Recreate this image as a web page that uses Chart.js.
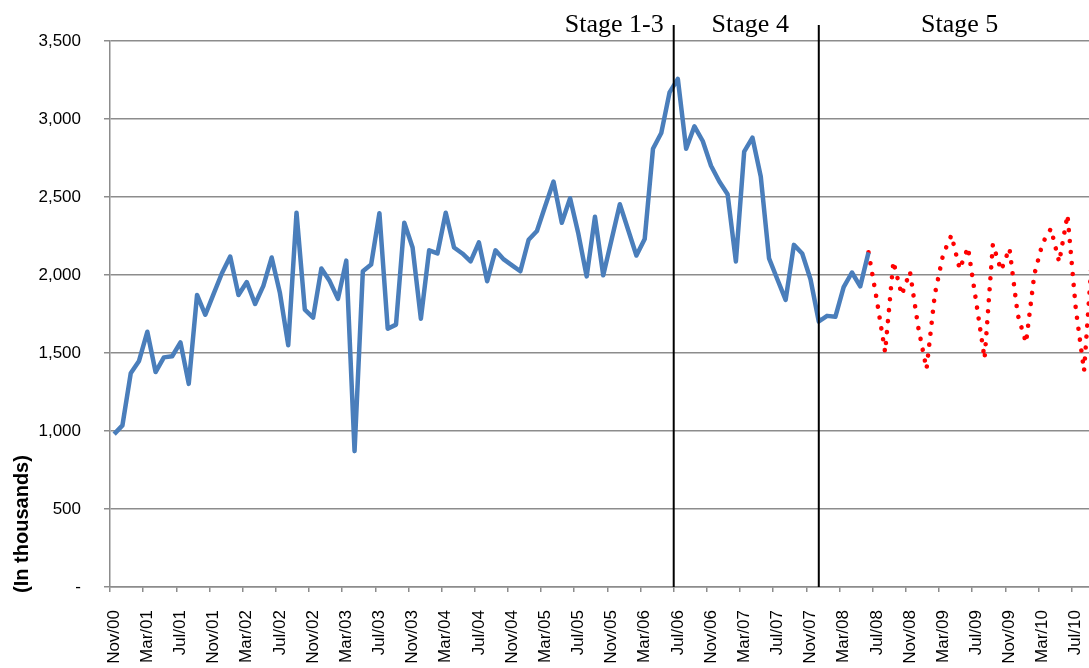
<!DOCTYPE html>
<html>
<head>
<meta charset="utf-8">
<script src="https://cdn.jsdelivr.net/npm/chart.js@4.4.1/dist/chart.umd.min.js"></script>
<style>
  html, body { margin: 0; padding: 0; background: #fff; }
  #wrap { width: 1089px; height: 668px; overflow: hidden; position: relative; }
  #chart { display: block; }
</style>
</head>
<body>
<div id="wrap"><canvas id="chart" width="1100" height="668"></canvas></div>
<script>
/* -------------------------------------------------------
   Data (thousands), monthly Nov/00 .. Sep/10
------------------------------------------------------- */
const monthNames = ["Jan", "Feb", "Mar", "Apr", "May", "Jun", "Jul", "Aug", "Sep", "Oct", "Nov", "Dec"];
const firstMonth = { month: 10, year: 2000 };   // Nov/00
const monthCount = 119;                          // through Sep/10

// actual series (solid blue), Nov/00 .. Jun/08
const actualValues = [
    980, 1036, 1370, 1449, 1636, 1378, 1472, 1479, 1568, 1302,
    1872, 1745, 1879, 2011, 2118, 1872, 1955, 1814, 1930, 2112,
    1884, 1550, 2399, 1778, 1727, 2042, 1961, 1847, 2092, 871,
    2024, 2067, 2396, 1656, 1682, 2335, 2176, 1720, 2158, 2138,
    2399, 2176, 2138, 2087, 2209, 1960, 2158, 2100, 2062, 2024,
    2226, 2282, 2442, 2599, 2335, 2492, 2264, 1991, 2373, 1998,
    2226, 2454, 2290, 2125, 2231, 2809, 2910, 3171, 3257, 2809,
    2953, 2859, 2700, 2599, 2518, 2087, 2791, 2880, 2632, 2107,
    1973, 1841, 2193, 2138, 1973, 1702, 1738, 1732, 1922, 2016,
    1927, 2145
];

// projected series (red dots), Jun/08 .. Sep/10
const projectedStart = 91;
const projectedValues = [
    2145, 1840, 1506, 2087, 1872, 2021, 1664, 1398, 1877, 2132,
    2255, 2038, 2177, 1823, 1464, 2197, 2030, 2171, 1745, 1566,
    2004, 2205, 2297, 2083, 2385, 1784, 1385, 2150
];

// stage boundaries (category index)
const stageBreak1 = 67.5;   // between Jun/06 and Jul/06
const stageBreak2 = 85;     // Dec/07
const stageLabels = ["Stage 1-3", "Stage 4", "Stage 5"];

const yTicks = [0, 500, 1000, 1500, 2000, 2500, 3000, 3500];

/* -------------------------------------------------------
   Build categories / datasets
------------------------------------------------------- */
const labels = [];
for (let i = 0; i < monthCount; i++) {
    const m = (firstMonth.month + i) % 12;
    const y = firstMonth.year + Math.floor((firstMonth.month + i) / 12);
    labels.push(`${monthNames[m]}/${String(y % 100).padStart(2, "0")}`);
}

const actualData = labels.map((_, i) => i < actualValues.length ? actualValues[i] : null);
const projectedData = labels.map((_, i) => {
    const j = i - projectedStart;
    return j >= 0 && j < projectedValues.length ? projectedValues[j] : null;
});

/* -------------------------------------------------------
   Stage lines + labels + y title
------------------------------------------------------- */
const stagePlugin = {
    id: "stages",
    afterDatasetsDraw(chart) {
        const { ctx, chartArea, scales: { x } } = chart;
        const px = v => {
            const lo = Math.floor(v), hi = Math.ceil(v);
            return (x.getPixelForValue(lo) + x.getPixelForValue(hi)) / 2;
        };
        const x1 = px(stageBreak1);
        const x2 = px(stageBreak2);

        ctx.save();
        ctx.strokeStyle = "#000";
        ctx.lineWidth = 2;
        [x1, x2].forEach(xx => {
            ctx.beginPath();
            ctx.moveTo(xx, 25);
            ctx.lineTo(xx, chartArea.bottom);
            ctx.stroke();
        });

        ctx.fillStyle = "#000";
        ctx.font = "26px 'Liberation Serif', 'Times New Roman', serif";
        ctx.textBaseline = "alphabetic";
        ctx.textAlign = "right";
        ctx.fillText(stageLabels[0], x1 - 10, 32);
        ctx.textAlign = "center";
        ctx.fillText(stageLabels[1], (x1 + x2) / 2 + 4, 32);
        ctx.fillText(stageLabels[2], x.getPixelForValue(102), 32);

        // y axis title, sits low like the original
        ctx.translate(22, 524);
        ctx.rotate(-Math.PI / 2);
        ctx.font = "bold 20px 'Liberation Sans', Arial, sans-serif";
        ctx.textBaseline = "middle";
        ctx.fillText("(In thousands)", 0, 0);
        ctx.restore();
    }
};

const gridGray = "#8c8c8c";

new Chart(document.getElementById("chart"), {
    type: "line",
    data: {
        labels,
        datasets: [
            {
                label: "Actual",
                data: actualData,
                borderColor: "#4a7ebb",
                borderWidth: 4.5,
                borderJoinStyle: "round",
                pointRadius: 0,
                tension: 0
            },
            {
                label: "Projected",
                data: projectedData,
                borderColor: "#ff0000",
                borderWidth: 4.6,
                borderDash: [0.01, 11],
                borderCapStyle: "round",
                pointRadius: 0,
                tension: 0
            }
        ]
    },
    options: {
        responsive: false,
        animation: false,
        devicePixelRatio: 1,
        layout: { padding: { top: 41, left: 0, right: 3.5, bottom: 0 } },
        plugins: {
            legend: { display: false },
            tooltip: { enabled: false }
        },
        scales: {
            x: {
                type: "category",
                offset: true,
                grid: {
                    offset: true,
                    drawOnChartArea: false,
                    drawTicks: true,
                    tickLength: 5,
                    lineWidth: 1.5,
                    color: c => (c.index % 4 === 0 ? gridGray : "rgba(0,0,0,0)")
                },
                border: { color: gridGray, width: 1.5 },
                ticks: {
                    autoSkip: false,
                    minRotation: 90,
                    maxRotation: 90,
                    padding: 18,
                    color: "#000",
                    font: { family: "'Liberation Sans', Arial, sans-serif", size: 17 },
                    callback: (v, i) => (i % 4 === 0 ? labels[i] : "")
                },
                afterFit: s => {
                    s.height = 81;
                    s.paddingLeft = 0;
                    s.paddingRight = 0;
                }
            },
            y: {
                min: 0,
                max: 3500,
                afterBuildTicks: s => { s.ticks = yTicks.map(v => ({ value: v })); },
                grid: { color: gridGray, lineWidth: 1.5, tickLength: 6 },
                border: { color: gridGray, width: 1.5 },
                ticks: {
                    padding: 23,
                    color: "#000",
                    font: { family: "'Liberation Sans', Arial, sans-serif", size: 17 },
                    callback: v => (v === 0 ? "-" : v.toLocaleString("en-US"))
                },
                afterFit: s => { s.width = 110; }
            }
        }
    },
    plugins: [stagePlugin]
});
</script>
</body>
</html>
